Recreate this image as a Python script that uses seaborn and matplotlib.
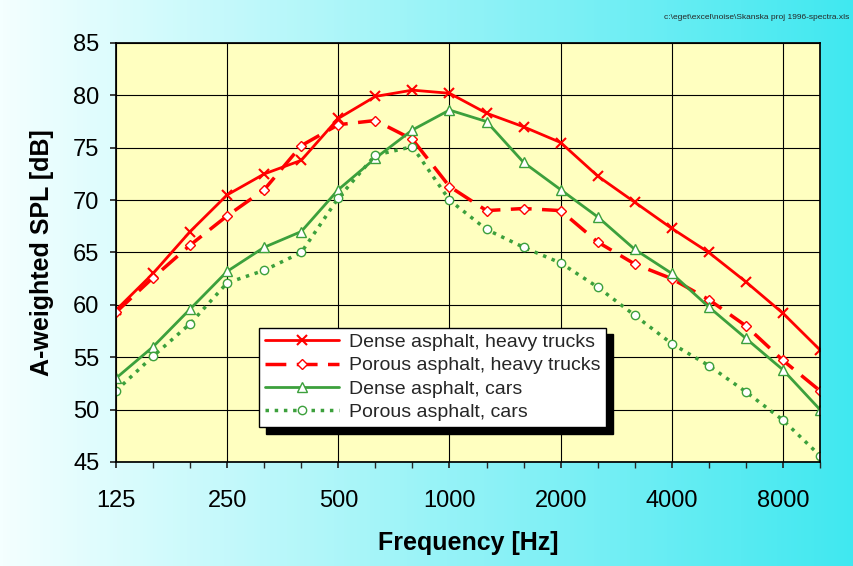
import numpy as np
import matplotlib
matplotlib.use("Agg")
from matplotlib import pyplot as plt
import seaborn as sns

freqs = [125, 160, 200, 250, 315, 400, 500, 630, 800, 1000, 1250, 1600,
         2000, 2500, 3150, 4000, 5000, 6300, 8000, 10000]
dense_trucks = [59.5, 63.0, 67.0, 70.5, 72.5, 73.8, 77.8, 79.9, 80.5, 80.2, 78.3, 77.0,
                75.5, 72.3, 69.8, 67.3, 65.0, 62.2, 59.2, 55.7]
porous_trucks = [59.3, 62.6, 65.7, 68.5, 71.0, 75.2, 77.2, 77.6, 75.8, 71.3, 69.0, 69.2,
                 69.0, 66.0, 63.9, 62.5, 60.5, 58.0, 54.7, 51.8]
dense_cars = [53.0, 56.0, 59.6, 63.2, 65.5, 67.0, 71.0, 74.0, 76.7, 78.6, 77.5, 73.6,
              71.0, 68.4, 65.3, 63.0, 59.8, 56.8, 53.8, 50.0]
porous_cars = [51.8, 55.1, 58.2, 62.1, 63.3, 65.0, 70.2, 74.3, 75.1, 70.0, 67.2, 65.5,
               64.0, 61.7, 59.0, 56.3, 54.2, 51.7, 49.0, 45.6]
tick_labels = ["125", "250", "500", "1000", "2000", "4000", "8000"]

sns.set_theme(style="white")
plt.rcParams['font.family'] = ['Liberation Sans', 'DejaVu Sans']

fig = plt.figure(figsize=(8.54, 5.66), dpi=100)
bg = fig.add_axes([0, 0, 1, 1], zorder=-10)
grad = np.linspace(0, 1, 256)[None, :]
cmap = matplotlib.colors.LinearSegmentedColormap.from_list("bg", ["#f4ffff", "#40e8f0"])
bg.imshow(grad, aspect="auto", cmap=cmap, extent=[0, 1, 0, 1])
bg.axis("off")

ax = fig.add_axes([116 / 854, 1 - 462 / 566, (820 - 116) / 854, (462 - 43) / 566])
ax.set_facecolor("#ffffc0")
x = np.arange(len(freqs))

ax.plot(x, dense_trucks, '-', color='red', lw=2, marker='x', ms=7, mew=1.5,
        label='Dense asphalt, heavy trucks')
ax.plot(x, porous_trucks, '--', color='red', lw=2.5, dashes=(6, 3), marker='D', ms=5,
        mfc='white', mec='red', label='Porous asphalt, heavy trucks')
ax.plot(x, dense_cars, '-', color='#3ca03c', lw=2, marker='^', ms=7,
        mfc='white', mec='#3ca03c', label='Dense asphalt, cars')
ax.plot(x, porous_cars, ':', color='#3ca03c', lw=2.5, marker='o', ms=6,
        mfc='white', mec='#3ca03c', label='Porous asphalt, cars')

ax.set_xlim(0, len(freqs) - 1)
ax.set_ylim(45, 85)
ax.set_yticks(range(45, 86, 5))
ax.set_xticks(x[::3])
ax.set_xticklabels(tick_labels)
ax.set_xticks(x, minor=True)
ax.grid(True, axis='y', color='black', lw=0.8)
ax.grid(True, axis='x', which='major', color='black', lw=0.8)
ax.tick_params(axis='both', labelsize=17, length=4, direction='out', bottom=True, left=True,
               labelcolor='black')
ax.tick_params(axis='x', pad=16)
ax.tick_params(axis='y', pad=8)
ax.tick_params(axis='x', which='minor', length=4, bottom=True)
for s in ax.spines.values():
    s.set_color('black')
ax.set_xlabel('Frequency [Hz]', fontsize=18, fontweight='bold', color='black', labelpad=14)
ax.set_ylabel('A-weighted SPL [dB]', fontsize=18, fontweight='bold', color='black', labelpad=14)

leg = ax.legend(loc='lower left', bbox_to_anchor=(0.19, 0.06), fontsize=14,
                fancybox=False, shadow={'color': 'black', 'alpha': 1, 'ox': 5, 'oy': -5},
                framealpha=1, edgecolor='black', handlelength=3.8, borderpad=0.3,
                labelspacing=0.3, handletextpad=0.5)
leg.get_frame().set_linewidth(1.0)

fig.text(0.995, 0.975, r'c:\eget\excel\noise\Skanska proj 1996-spectra.xls',
         fontsize=6, ha='right', va='top')

plt.savefig("out.png", dpi=100)
